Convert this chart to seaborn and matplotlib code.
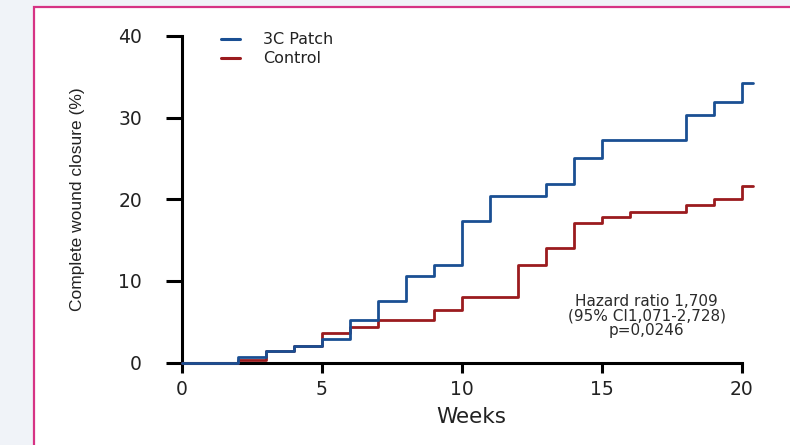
import matplotlib
matplotlib.use("Agg")
import matplotlib.pyplot as plt
from matplotlib.patches import Rectangle
from matplotlib.lines import Line2D
import pandas as pd
import seaborn as sns

# step points (week, % closed)
weeks = [0, 2, 3, 4, 5, 6, 7, 8, 9, 10, 11, 12, 13, 14, 15, 16, 18, 19, 20, 20.4]
patch_pct = [0, 0.7, 1.4, 2.1, 2.9, 5.2, 7.5, 10.6, 12.0, 17.4, 20.4, 20.4,
             21.9, 25.1, 27.3, 27.3, 30.3, 31.9, 34.2, 34.2]
control_pct = [0, 0.35, 1.4, 2.1, 3.6, 4.4, 5.2, 5.2, 6.5, 8.1, 8.1, 11.9,
               14.1, 17.1, 17.8, 18.5, 19.3, 20.0, 21.6, 21.6]
groups = ["3C Patch", "Control"]
xticks = [0, 5, 10, 15, 20]
yticks = [0, 10, 20, 30, 40]
hr_lines = ["Hazard ratio 1,709", "(95% CI1,071-2,728)", "p=0,0246"]

BLUE = "#1a4f93"
RED = "#9b1b1e"
TXT = "#222222"

n = len(weeks)
df = pd.DataFrame({
    "week": weeks * 2,
    "closure": control_pct + patch_pct,
    "group": ["Control"] * n + ["3C Patch"] * n,
})

sns.set_style("white")
plt.rcParams["font.family"] = ["DejaVu Sans"]

fig = plt.figure(figsize=(7.9, 4.45), dpi=100, facecolor="#f0f3f8")
# white card with pink border (runs off the right/bottom edge)
fig.patches.append(Rectangle((34 / 790, -0.5), 2, 0.5 + 1 - 7 / 445,
                             transform=fig.transFigure, facecolor="white",
                             edgecolor="#d63384", lw=1.6, zorder=-1))

ax = fig.add_axes([181.7 / 790, 82.3 / 445, 574 / 790, 326.8 / 445])
ax.set_facecolor("none")

# control first so the patch curve sits on top
sns.lineplot(data=df, x="week", y="closure", hue="group",
             hue_order=["Control", "3C Patch"],
             palette={"Control": RED, "3C Patch": BLUE},
             drawstyle="steps-post", estimator=None, lw=2.0,
             legend=False, ax=ax)
for line in ax.lines:
    line.set_zorder(3)
    line.set_clip_on(False)

ax.set_xlim(0, 20.5)
ax.set_ylim(0, 40)
ax.set_xticks(xticks)
ax.set_yticks(yticks)

for side in ["top", "right"]:
    ax.spines[side].set_visible(False)
for side in ["left", "bottom"]:
    ax.spines[side].set_linewidth(2.2)
    ax.spines[side].set_color("black")
ax.spines["left"].set_bounds(0, 40)
ax.spines["bottom"].set_bounds(0, 20)

ax.tick_params(axis="y", left=True, length=11.5, width=2.2, pad=17, labelsize=13.5,
               labelcolor=TXT, color="black")
ax.tick_params(axis="x", bottom=True, length=7.2, width=2.2, pad=5, labelsize=13.5,
               labelcolor=TXT, color="black")

ax.set_ylabel("Complete wound closure (%)", family=["Liberation Sans", "DejaVu Sans"],
              fontsize=12.5, color=TXT, va="center")
ax.yaxis.set_label_coords(-0.1824, 0.5)
ax.set_xlabel("Weeks", fontsize=15.5, color=TXT, va="top")
ax.xaxis.set_label_coords(0.505, -0.135)

handles = [Line2D([], [], color=BLUE, lw=2.2), Line2D([], [], color=RED, lw=2.2)]
ax.legend(handles, groups, loc="upper left", bbox_to_anchor=(0.068, 1.011),
          frameon=False, borderpad=0, borderaxespad=0, handlelength=1.2,
          handletextpad=1.45, labelspacing=0.25, fontsize=11.5, labelcolor=TXT)

ax.text(16.6, 5.72, "\n".join(hr_lines), ha="center", va="center",
        multialignment="center", linespacing=0.95, fontsize=11, color="#2b2b2b")

fig.savefig("out.png", dpi=100)
